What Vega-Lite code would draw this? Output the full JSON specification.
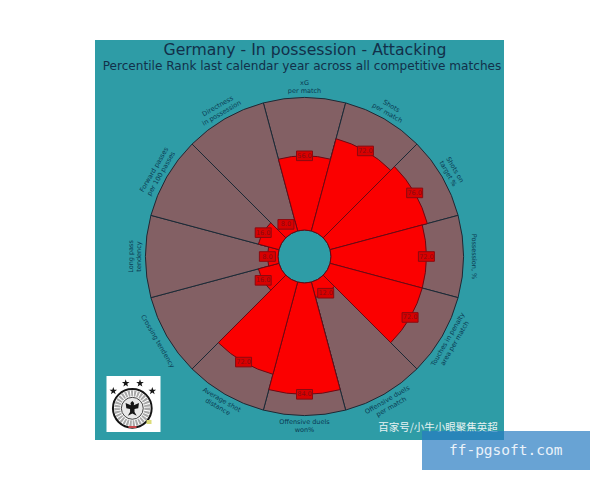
{
"$schema":"https://vega.github.io/schema/vega-lite/v6.json",
"width":600,"height":480,"padding":0,"autosize":{"type":"none"},
"background":"white",
"view":{"stroke":null},
"config":{"text":{"font":"DejaVu Sans"}},
"datasets":{
"metrics":[
{"metric":"xG per match","order":0,"value":56,"label":"56.0","name":"xG\nper match"},
{"metric":"Shots per match","order":1,"value":72,"label":"72.0","name":"Shots\nper match"},
{"metric":"Shots on target %","order":2,"value":76,"label":"76.0","name":"Shots on\ntarget %"},
{"metric":"Possession, %","order":3,"value":72,"label":"72.0","name":"Possession, %"},
{"metric":"Touches in penalty area per match","order":4,"value":72,"label":"72.0","name":"Touches in penalty\narea per match"},
{"metric":"Offensive duels per match","order":5,"value":12,"label":"12.0","name":"Offensive duels\nper match"},
{"metric":"Offensive duels won%","order":6,"value":84,"label":"84.0","name":"Offensive duels\nwon%"},
{"metric":"Average shot distance","order":7,"value":72,"label":"72.0","name":"Average shot\ndistance"},
{"metric":"Crossing tendency","order":8,"value":16,"label":"16.0","name":"Crossing tendency"},
{"metric":"Long pass tendency","order":9,"value":8,"label":"8.0","name":"Long pass\ntendency"},
{"metric":"Forward passes per 100 passes","order":10,"value":16,"label":"16.0","name":"Forward passes\nper 100 passes"},
{"metric":"Directness in possession","order":11,"value":8,"label":"8.0","name":"Directness\nin possession"}
],
"stars":[{"x":-178.8,"y":-126.8},{"x":-164.5,"y":-126.8},{"x":-191.2,"y":-134.5},{"x":-152.2,"y":-134.5}],
"crest":[{"x":-172.2,"y":-151.8}]
},
"data":{"name":"metrics"},
"encoding":{},
"layer":[
{"data":{"values":[{"x":-209.5,"x2":199.5,"y":-183.5,"y2":216.5}]},
 "mark":{"type":"rect","fill":"#2e9ca6"},
 "encoding":{
  "x":{"field":"x","type":"quantitative","axis":null,"scale":{"domain":[-304.5,295.5],"nice":false,"zero":false}},
  "x2":{"field":"x2"},
  "y":{"field":"y","type":"quantitative","axis":null,"scale":{"domain":[-223.5,256.5],"nice":false,"zero":false}},
  "y2":{"field":"y2"}}},
{"mark":{"type":"arc","fill":"#836064","stroke":"#1c2a36","strokeWidth":1},
 "encoding":{
  "x":{"datum":0,"type":"quantitative"},"y":{"datum":0,"type":"quantitative"},
  "theta":{"field":"metric","type":"nominal","sort":null,"legend":null,"scale":{"type":"band","domain":{"data":"metrics","field":"metric"},"range":[-0.2618,6.0214],"paddingInner":0,"paddingOuter":0}},
  "radius":{"datum":100,"type":"quantitative","scale":{"type":"linear","domain":[0,100],"range":[26.5,159],"zero":true,"clamp":false}},
  "radius2":{"datum":0}}},
{"mark":{"type":"arc","fill":"#fb0000","stroke":"#6b0a14","strokeWidth":1},
 "encoding":{
  "x":{"datum":0,"type":"quantitative"},"y":{"datum":0,"type":"quantitative"},
  "theta":{"field":"metric","type":"nominal","sort":null,"legend":null},
  "radius":{"field":"value","type":"quantitative"},
  "radius2":{"datum":0}}},
{"transform":[{"filter":"indexof(datum.name,'\\n')>=0"}],
 "mark":{"type":"text","fontSize":6.5,"color":"#0a3a52","lineBreak":"\n","align":"center","baseline":"middle","lineHeight":8,"dy":-4},
 "encoding":{
  "x":{"datum":0,"type":"quantitative"},"y":{"datum":0,"type":"quantitative"},
  "theta":{"field":"metric","type":"nominal","sort":null,"legend":null},
  "radius":{"datum":108,"type":"quantitative"},
  "angle":{"field":"metric","type":"nominal","legend":null,"scale":{"type":"ordinal","domain":["xG per match","Shots per match","Shots on target %","Possession, %","Touches in penalty area per match","Offensive duels per match","Offensive duels won%","Average shot distance","Crossing tendency","Long pass tendency","Forward passes per 100 passes","Directness in possession"],"range":[0,30,60,90,300,330,0,30,60,270,300,330]}},
  "text":{"field":"name","type":"nominal"}}},
{"transform":[{"filter":"indexof(datum.name,'\\n')<0"}],
 "mark":{"type":"text","fontSize":6.5,"color":"#0a3a52","align":"center","baseline":"middle"},
 "encoding":{
  "x":{"datum":0,"type":"quantitative"},"y":{"datum":0,"type":"quantitative"},
  "theta":{"field":"metric","type":"nominal","sort":null,"legend":null},
  "radius":{"datum":108,"type":"quantitative"},
  "angle":{"field":"metric","type":"nominal","legend":null,"scale":{"type":"ordinal","domain":["xG per match","Shots per match","Shots on target %","Possession, %","Touches in penalty area per match","Offensive duels per match","Offensive duels won%","Average shot distance","Crossing tendency","Long pass tendency","Forward passes per 100 passes","Directness in possession"],"range":[0,30,60,90,300,330,0,30,60,270,300,330]}},
  "text":{"field":"name","type":"nominal"}}},
{"transform":[
  {"calculate":"(26.5+1.325*datum.value)*sin(datum.order*PI/6)","as":"bx"},
  {"calculate":"(26.5+1.325*datum.value)*cos(datum.order*PI/6)","as":"by"}],
 "layer":[
  {"mark":{"type":"point","shape":"M-1,-0.6H1V0.6H-1Z","filled":true,"fill":"#d80000","stroke":"#8a0a10","strokeWidth":1,"size":256,"opacity":1},
   "encoding":{"x":{"field":"bx","type":"quantitative"},"y":{"field":"by","type":"quantitative"}}},
  {"mark":{"type":"text","fontSize":6.5,"color":"#8a0a10","align":"center","baseline":"middle"},
   "encoding":{"x":{"field":"bx","type":"quantitative"},"y":{"field":"by","type":"quantitative"},"text":{"field":"label","type":"nominal"}}}
 ]},
{"data":{"values":[{"x":-198,"x2":-144,"y":-175.5,"y2":-119.5}]},
 "mark":{"type":"rect","fill":"white"},
 "encoding":{"x":{"field":"x","type":"quantitative"},"x2":{"field":"x2"},"y":{"field":"y","type":"quantitative"},"y2":{"field":"y2"}}},
{"data":{"name":"stars"},
 "mark":{"type":"point","filled":true,"fill":"#151515","opacity":1,"size":64,"shape":"M0,-1L0.24,-0.31L0.95,-0.31L0.38,0.12L0.59,0.81L0,0.4L-0.59,0.81L-0.38,0.12L-0.95,-0.31L-0.24,-0.31Z"},
 "encoding":{"x":{"field":"x","type":"quantitative"},"y":{"field":"y","type":"quantitative"}}},
{"data":{"name":"crest"},
 "layer":[
  {"mark":{"type":"point","shape":"circle","fill":"white","stroke":"#151515","strokeWidth":2,"size":1500,"opacity":1},
   "encoding":{"x":{"field":"x","type":"quantitative"},"y":{"field":"y","type":"quantitative"}}},
  {"mark":{"type":"point","shape":"circle","fill":"white","stroke":"#a8a8a8","strokeWidth":6,"strokeDash":[2,1],"size":900,"opacity":1},
   "encoding":{"x":{"field":"x","type":"quantitative"},"y":{"field":"y","type":"quantitative"}}},
  {"mark":{"type":"point","shape":"circle","fill":"#e8e8e8","stroke":"#151515","strokeWidth":0.8,"size":480,"opacity":1},
   "encoding":{"x":{"field":"x","type":"quantitative"},"y":{"field":"y","type":"quantitative"}}},
  {"mark":{"type":"point","filled":true,"fill":"#151515","opacity":1,"size":220,"shape":"M0,-1L0.25,-0.7L0.2,-0.4L0.9,-0.7L0.8,0L0.3,0.1L0.3,0.5L0.6,1L0,0.7L-0.6,1L-0.3,0.5L-0.3,0.1L-0.8,0L-0.9,-0.7L-0.2,-0.4L-0.25,-0.7Z"},
   "encoding":{"x":{"field":"x","type":"quantitative"},"y":{"field":"y","type":"quantitative"}}}
 ]},
{"data":{"values":[{"x":-176,"x2":-168,"y":-171.5,"y2":-169.5}]},
 "mark":{"type":"rect","fill":"#c9484c"},
 "encoding":{"x":{"field":"x","type":"quantitative"},"x2":{"field":"x2"},"y":{"field":"y","type":"quantitative"},"y2":{"field":"y2"}}},
{"data":{"values":[{"x":-158,"x2":-153,"y":-167.5,"y2":-163.5}]},
 "mark":{"type":"rect","fill":"#dcdc78"},
 "encoding":{"x":{"field":"x","type":"quantitative"},"x2":{"field":"x2"},"y":{"field":"y","type":"quantitative"},"y2":{"field":"y2"}}},
{"data":{"values":[{"x":0.5,"y":206.5,"t":"Germany - In possession - Attacking"}]},
 "mark":{"type":"text","fontSize":15.7,"color":"#12304a","align":"center","baseline":"middle"},
 "encoding":{"x":{"field":"x","type":"quantitative"},"y":{"field":"y","type":"quantitative"},"text":{"field":"t","type":"nominal"}}},
{"data":{"values":[{"x":-2.5,"y":190.5,"t":"Percentile Rank last calendar year across all competitive matches"}]},
 "mark":{"type":"text","fontSize":12.1,"color":"#12304a","align":"center","baseline":"middle"},
 "encoding":{"x":{"field":"x","type":"quantitative"},"y":{"field":"y","type":"quantitative"},"text":{"field":"t","type":"nominal"}}},
{"data":{"values":[{"x":133.5,"y":-171.2,"t":"百家号/小牛小眼聚焦英超"}]},
 "mark":{"type":"text","font":"Noto Sans CJK SC","fontSize":10.5,"color":"#e6f2f2","align":"center","baseline":"middle"},
 "encoding":{"x":{"field":"x","type":"quantitative"},"y":{"field":"y","type":"quantitative"},"text":{"field":"t","type":"nominal"}}},
{"data":{"values":[{"x":117.5,"x2":285.5,"y":-213.5,"y2":-174.5}]},
 "mark":{"type":"rect","fill":"#287cc2","opacity":0.7},
 "encoding":{"x":{"field":"x","type":"quantitative"},"x2":{"field":"x2"},"y":{"field":"y","type":"quantitative"},"y2":{"field":"y2"}}},
{"data":{"values":[{"x":201.2,"y":-194.2,"t":"ff-pgsoft.com"}]},
 "mark":{"type":"text","font":"DejaVu Sans Mono","fontSize":14.5,"color":"#eaf2fa","align":"center","baseline":"middle"},
 "encoding":{"x":{"field":"x","type":"quantitative"},"y":{"field":"y","type":"quantitative"},"text":{"field":"t","type":"nominal"}}}
]
}
